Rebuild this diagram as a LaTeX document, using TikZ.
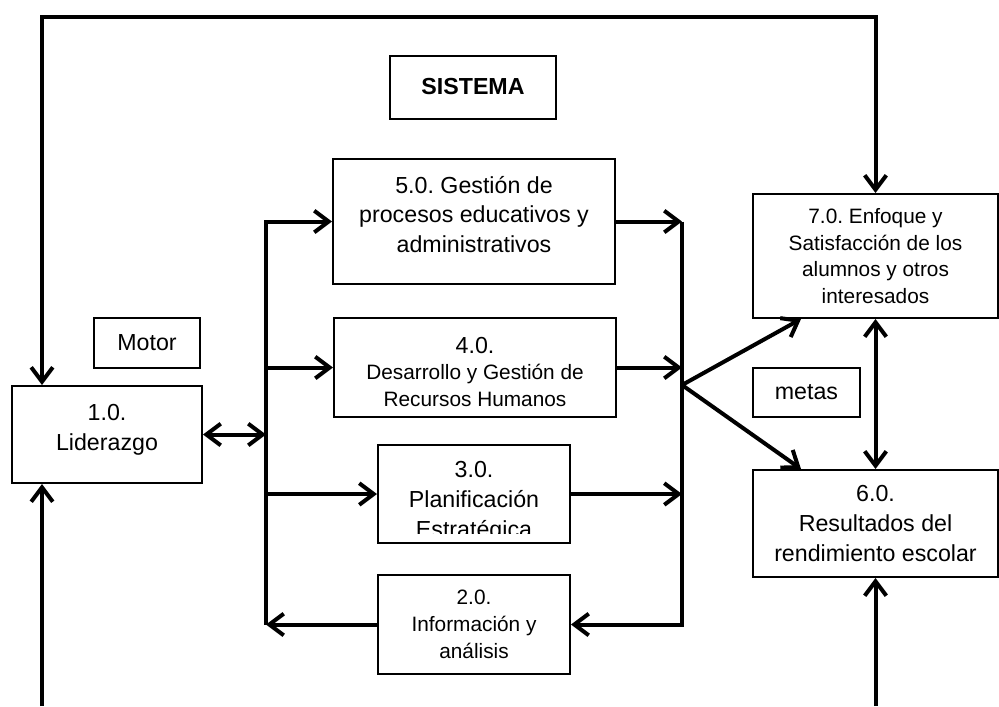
\documentclass[tikz,border=0pt]{standalone}
\usepackage{fontspec}
\setmainfont{Liberation Sans}
\frenchspacing
\usepackage{xcolor}
\definecolor{cInk}{HTML}{000000}
\usepackage{tikz}
\usetikzlibrary{arrows.meta,calc}
\newlength{\pxu}
\setlength{\pxu}{0.025cm}
\newcommand{\fbig}{\fontsize{16.5}{21.3}\selectfont}
\newcommand{\fsmall}{\fontsize{14.8}{19}\selectfont}
% texto centrado, movido en vertical dentro de la caja
\newcommand{\liftup}[2]{\raisebox{#1}[\height][\depth]{\begin{tabular}{@{}c@{}}#2\end{tabular}}}
\tikzset{
  node-box/.style={draw=cInk,line width=2\pxu,align=center,inner sep=0pt,
    font=\fbig,text=cInk},
  node-text/.style={align=center,font=\fbig,text=cInk},
  arrow/.style={-{Straight Barb[length=3.6mm,width=5.4mm]},line width=1mm,draw=cInk},
  arrow-both/.style={{Straight Barb[length=3.6mm,width=5.4mm]}-{Straight Barb[length=3.6mm,width=5.4mm]},
    line width=1mm,draw=cInk},
}

\begin{document}
\begin{tikzpicture}[x=\pxu,y=-\pxu]
  \useasboundingbox (0,0) rectangle (999,706);
  \node[node-box,font=\fbig\bfseries,minimum width=166\pxu,minimum height=63\pxu] (sys) at (473,87) {SISTEMA};
  \node[node-box,minimum width=282\pxu,minimum height=125\pxu] (n5) at (474,221.5) {\liftup{4.5\pxu}{5.0. Gestión de\\procesos educativos y\\administrativos}};
  \node[node-box,font=\fsmall,minimum width=282\pxu,minimum height=99\pxu] (n4) at (475,367.5) {\liftup{-7\pxu}{{\fbig 4.0.}\\Desarrollo y Gestión de\\Recursos Humanos}};
  \node[node-box,minimum width=192\pxu,minimum height=98\pxu,
    path picture={
      \clip ([yshift=10\pxu]path picture bounding box.south west) rectangle (path picture bounding box.north east);
      \node[node-text,anchor=north,inner sep=15\pxu] (n3txt) at (path picture bounding box.north) {3.0.\\Planificación\\Estratégica};
    }] (n3) at (474,494) {};
  \node[node-box,font=\fsmall,minimum width=192\pxu,minimum height=99\pxu] (n2) at (474,624.5) {2.0.\\Información y\\análisis};
  \node[node-box,minimum width=190\pxu,minimum height=97\pxu] (n1) at (107,434.5) {\liftup{5\pxu}{1.0.\\Liderazgo}};
  \node[node-box,minimum width=106\pxu,minimum height=50\pxu] (motor) at (147,343) {Motor};
  \node[node-box,font=\fsmall,minimum width=245\pxu,minimum height=124\pxu] (n7) at (875.5,256) {7.0. Enfoque y\\Satisfacción de los\\alumnos y otros\\interesados};
  \node[node-box,minimum width=107\pxu,minimum height=49\pxu] (metas) at (806.5,392.5) {metas};
  \node[node-box,minimum width=245\pxu,minimum height=107\pxu] (n6) at (875.5,523.5) {6.0.\\Resultados del\\rendimiento escolar};

  \coordinate (topL) at (42,17);
  \coordinate (botL) at (42,706);
  \coordinate (busL) at (266,0);
  \coordinate (busR) at (682,0);
  \coordinate (hub) at (682,385);

  % lazo exterior
  \draw[arrow-both] (n1.north -| topL) -- (topL) -- (n7.north |- topL) -- (n7.north);
  \draw[arrow] (botL) -- (n1.south -| botL);
  \draw[arrow] (n6.south |- botL) -- (n6.south);
  \draw[arrow-both] (n1.east) -- (n1.east -| busL);
  % bus izquierdo
  \draw[arrow] (n2.west -| busL) -- (n5.west -| busL) -- (n5.west);
  \draw[arrow] (n4.west -| busL) -- (n4.west);
  \draw[arrow] (n3.west -| busL) -- (n3.west);
  \draw[arrow] (n2.west) -- (n2.west -| busL);
  % bus derecho
  \draw[arrow] (n5.east) -- (n5.east -| busR);
  \draw[arrow] (n4.east) -- (n4.east -| busR);
  \draw[arrow] (n3.east) -- (n3.east -| busR);
  \draw[arrow] (n5.east -| busR) -- (n2.east -| busR) -- (n2.east);
  \draw[arrow] (hub) -- ($(n7.south west)+(49,0)$);
  \draw[arrow] (hub) -- ($(n6.north west)+(49,0)$);
  \draw[arrow-both] (n7.south) -- (n6.north);
\end{tikzpicture}
\end{document}
